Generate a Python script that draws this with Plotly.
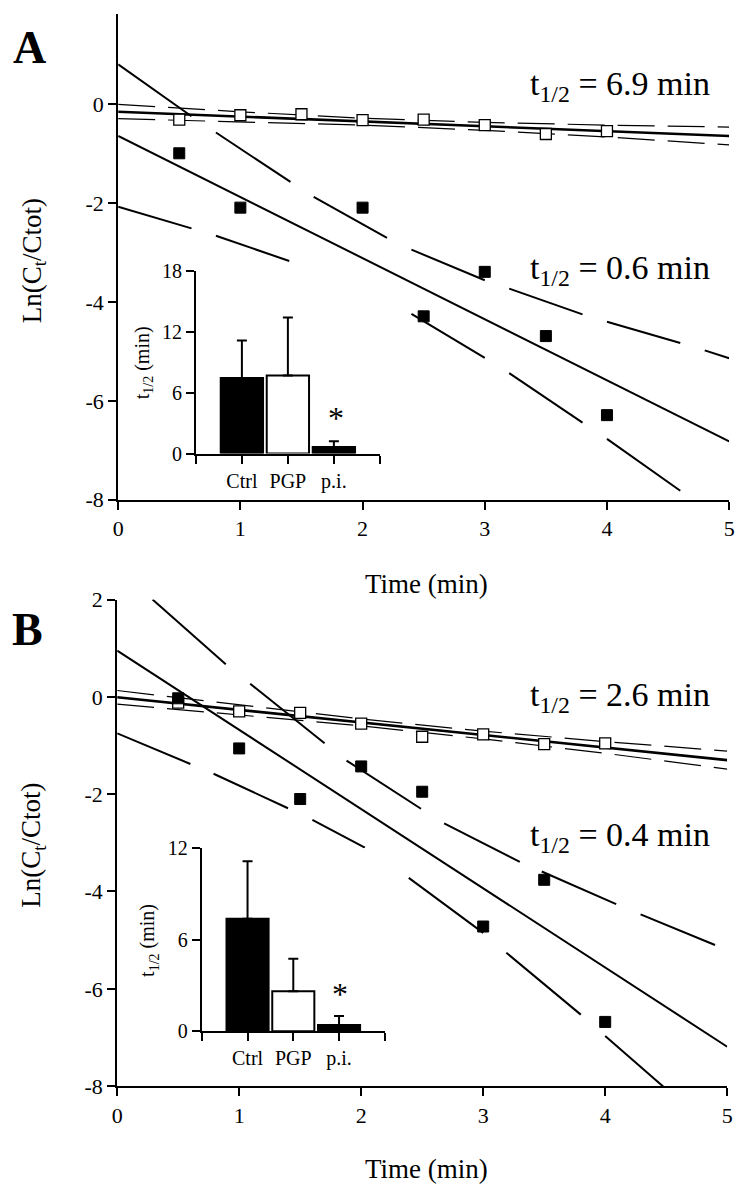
import plotly.graph_objects as go

# ---------------- data ----------------
time_pts = [0.5, 1.0, 1.5, 2.0, 2.5, 3.0, 3.5, 4.0]

# Panel A
A_pgp = [-0.31, -0.22, -0.20, -0.32, -0.31, -0.42, -0.60, -0.54]
A_pi_time = [0.5, 1.0, 1.7, 2.0, 2.5, 3.0, 3.5, 4.0]
A_pi = [-0.99, -2.09, -3.71, -2.09, -4.29, -3.39, -4.69, -6.29]

fit_x = [0, 5]
A_pgp_fit = [-0.15, -0.64]
A_pi_fit = [-0.64, -6.82]

band_x = [0, 1, 2, 3, 4, 5]
A_pgp_upper = [0.0, -0.15, -0.28, -0.365, -0.42, -0.46]
A_pgp_lower = [-0.29, -0.35, -0.42, -0.525, -0.66, -0.82]

A_pi_upper_x = [0, 0.6, 0.8, 1.41, 1.6, 2.2, 2.4, 3.0, 3.2, 3.8, 4.0, 4.6, 4.8, 5.0]
A_pi_upper_y = [0.81, -0.24, -0.57, -1.57, -1.87, -2.70, -2.94, -3.56, -3.73, -4.25, -4.40, -4.83, -4.98, -5.14]
A_pi_lower_x = [0, 0.6, 0.8, 1.4, 2.4, 3.0, 3.2, 3.8, 4.0, 4.6]
A_pi_lower_y = [-2.07, -2.51, -2.66, -3.17, -4.24, -5.13, -5.44, -6.44, -6.77, -7.82]

# Panel B
B_pgp = [-0.12, -0.30, -0.33, -0.55, -0.82, -0.77, -0.97, -0.955]
B_pi_time = [0.5, 1.0, 1.5, 2.0, 2.5, 3.0, 3.5, 4.0]
B_pi = [-0.03, -1.06, -2.10, -1.43, -1.95, -4.72, -3.76, -6.68]

B_pgp_fit = [-0.01, -1.30]
B_pi_fit = [0.95, -7.19]

B_pgp_upper = [0.13, -0.17, -0.455, -0.705, -0.92, -1.115]
B_pgp_lower = [-0.15, -0.37, -0.595, -0.865, -1.16, -1.485]

B_pi_upper_x = [0.29, 0.89, 1.09, 1.70, 1.88, 2.49, 2.68, 3.30, 3.48, 4.09, 4.29, 4.90]
B_pi_upper_y = [2.0, 0.67, 0.27, -0.955, -1.31, -2.30, -2.60, -3.39, -3.59, -4.26, -4.47, -5.10]
B_pi_lower_x = [0, 0.60, 0.79, 1.40, 1.60, 2.03, 2.39, 3.00, 3.19, 3.80, 4.00, 4.60]
B_pi_lower_y = [-0.75, -1.38, -1.58, -2.29, -2.53, -3.10, -3.72, -4.85, -5.26, -6.53, -6.97, -8.28]

# Insets (t1/2, min)
groups = ["Ctrl", "PGP", "p.i."]
A_thalf = [7.43, 7.69, 0.65]
A_err = [3.69, 5.69, 0.57]
B_thalf = [7.38, 2.62, 0.41]
B_err = [3.76, 2.13, 0.60]
bar_fill = ["black", "white", "black"]

x_ticks = [0, 1, 2, 3, 4, 5]
A_y_ticks = [-8, -6, -4, -2, 0]
B_y_ticks = [-8, -6, -4, -2, 0, 2]
A_inset_ticks = [0, 6, 12, 18]
B_inset_ticks = [0, 6, 12]

t_half_labels = {"A1": "6.9", "A2": "0.6", "B1": "2.6", "B2": "0.4"}

# ---------------- helpers ----------------
W, H = 745, 1200
SERIF = "Liberation Serif, Times New Roman, serif"


def pxx(x):
    return x / W


def pxy(y):
    return 1 - y / H


def segments(xs, ys):
    sx, sy = [], []
    for i in range(0, len(xs) - 1, 2):
        sx += [xs[i], xs[i + 1], None]
        sy += [ys[i], ys[i + 1], None]
    return sx, sy


fig = go.Figure()


def add_panel(xa, ya, pgp, pgp_fit, pgp_up, pgp_lo, pi_t, pi, pi_fit, up_x, up_y, lo_x, lo_y):
    for band in (pgp_up, pgp_lo):
        fig.add_trace(go.Scatter(x=band_x, y=band, mode="lines", xaxis=xa, yaxis=ya,
                                 line=dict(color="black", width=1.2, dash="37px,13px")))
    fig.add_trace(go.Scatter(x=fit_x, y=pgp_fit, mode="lines", xaxis=xa, yaxis=ya,
                             line=dict(color="black", width=2.6)))
    for bx, by in ((up_x, up_y), (lo_x, lo_y)):
        sx, sy = segments(bx, by)
        fig.add_trace(go.Scatter(x=sx, y=sy, mode="lines", xaxis=xa, yaxis=ya,
                                 line=dict(color="black", width=2), connectgaps=False))
    fig.add_trace(go.Scatter(x=fit_x, y=pi_fit, mode="lines", xaxis=xa, yaxis=ya,
                             line=dict(color="black", width=2)))
    fig.add_trace(go.Scatter(x=time_pts, y=pgp, mode="markers", xaxis=xa, yaxis=ya,
                             marker=dict(symbol="square", size=11, color="white",
                                         line=dict(color="black", width=1.3))))
    fig.add_trace(go.Scatter(x=pi_t, y=pi, mode="markers", xaxis=xa, yaxis=ya,
                             marker=dict(symbol="square", size=11, color="black",
                                         line=dict(color="black", width=1))))


add_panel("x", "y", A_pgp, A_pgp_fit, A_pgp_upper, A_pgp_lower, A_pi_time, A_pi, A_pi_fit,
          A_pi_upper_x, A_pi_upper_y, A_pi_lower_x, A_pi_lower_y)
add_panel("x2", "y2", B_pgp, B_pgp_fit, B_pgp_upper, B_pgp_lower, B_pi_time, B_pi, B_pi_fit,
          B_pi_upper_x, B_pi_upper_y, B_pi_lower_x, B_pi_lower_y)

for xa, ya, vals, errs in (("x3", "y3", A_thalf, A_err), ("x4", "y4", B_thalf, B_err)):
    fig.add_trace(go.Bar(x=list(range(len(groups))), y=vals, xaxis=xa, yaxis=ya, width=0.92,
                         marker=dict(color=bar_fill, line=dict(color="black", width=2)),
                         error_y=dict(type="data", array=errs, arrayminus=[0] * len(errs),
                                      symmetric=False, color="black", thickness=2, width=5)))

main_axis = dict(showline=True, linecolor="black", linewidth=2, ticks="outside", ticklen=8,
                 tickwidth=2, tickcolor="black", showgrid=False, zeroline=False,
                 tickfont=dict(family=SERIF, size=22, color="black"))
inset_axis = dict(showline=True, linecolor="black", linewidth=2, ticks="outside", ticklen=8,
                  tickwidth=2, tickcolor="black", showgrid=False, zeroline=False,
                  tickfont=dict(family=SERIF, size=20, color="black"))
inset_minor = dict(tickvals=[-1, 3], ticks="outside", ticklen=8, tickwidth=2,
                   tickcolor="black", showgrid=False)

fig.update_layout(
    width=W, height=H, margin=dict(l=0, r=0, t=0, b=0),
    paper_bgcolor="white", plot_bgcolor="white", showlegend=False,
    xaxis=dict(main_axis, domain=[pxx(114), pxx(735)], range=[0, 5], anchor="y",
               tickvals=x_ticks, ticktext=[str(v) for v in x_ticks]),
    yaxis=dict(main_axis, domain=[pxy(498), pxy(2)], range=[-8, 1.83], anchor="x",
               tickvals=A_y_ticks, ticktext=[str(v) for v in A_y_ticks]),
    xaxis2=dict(main_axis, domain=[pxx(113), pxx(733)], range=[0, 5], anchor="y2",
                tickvals=x_ticks, ticktext=[str(v) for v in x_ticks]),
    yaxis2=dict(main_axis, domain=[pxy(1097), pxy(600)], range=[-8, 2], anchor="x2",
                tickvals=B_y_ticks, ticktext=[str(v) for v in B_y_ticks]),
    xaxis3=dict(inset_axis, domain=[pxx(193), pxx(380)], range=[-1, 3], anchor="y3",
                tickvals=[0, 1, 2], ticktext=groups, minor=inset_minor),
    yaxis3=dict(inset_axis, domain=[pxy(451), pxy(264)], range=[0, 18], anchor="x3",
                tickvals=A_inset_ticks, ticktext=[str(v) for v in A_inset_ticks]),
    xaxis4=dict(inset_axis, domain=[pxx(199), pxx(385)], range=[-1, 3], anchor="y4",
                tickvals=[0, 1, 2], ticktext=groups, minor=inset_minor),
    yaxis4=dict(inset_axis, domain=[pxy(1041), pxy(854)], range=[0, 12], anchor="x4",
                tickvals=B_inset_ticks, ticktext=[str(v) for v in B_inset_ticks]),
)


def note(text, x, y, size, xanchor="center", **kw):
    fig.add_annotation(text=text, x=pxx(x), y=pxy(y), xref="paper", yref="paper",
                       xanchor=xanchor, yanchor="middle", showarrow=False,
                       font=dict(family=SERIF, size=size, color="black"), **kw)


note("<b>A</b>", 24, 36, 46)
note("<b>B</b>", 22, 631, 46)
for yc in (254, 851):
    note("Ln(C<sub>t</sub>/Ctot)", 28, yc, 27, textangle=-90)
for yc in (584, 1182):
    note("Time (min)", 427, yc, 27)
note("t<sub>1/2</sub> (min)", 140, 358, 20, textangle=-90)
note("t<sub>1/2</sub> (min)", 145, 948, 20, textangle=-90)
note("*", 335, 415, 32)
note("*", 339, 1003, 32)
for key, yc in (("A1", 76), ("A2", 263), ("B1", 700), ("B2", 843)):
    note("t<sub>1/2</sub> = %s min" % t_half_labels[key], 718, yc, 34, xanchor="right")

fig.write_html("out.html", config={"displayModeBar": False},
               post_script="document.body.style.margin='0';document.body.style.overflow='hidden';")
